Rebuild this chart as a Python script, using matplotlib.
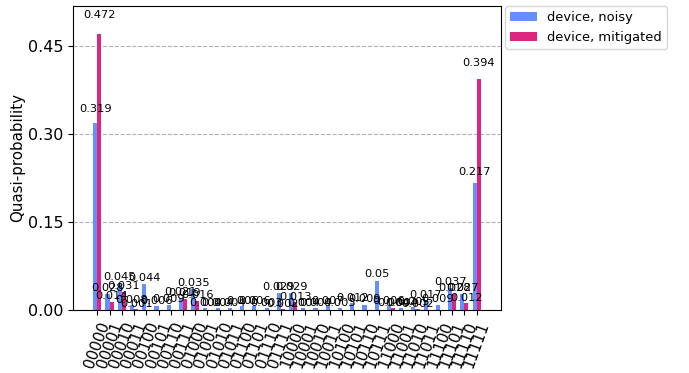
import numpy as np
import matplotlib
matplotlib.use('Agg')
import matplotlib.pyplot as plt

# bitstring outcomes, 5 qubits
labels = [format(i, '05b') for i in range(32)]

noisy = [0.319, 0.028, 0.045, 0.008, 0.044, 0.006, 0.009, 0.021,
         0.035, 0.004, 0.004, 0.004, 0.006, 0.006, 0.003, 0.029,
         0.029, 0.004, 0.004, 0.007, 0.003, 0.012, 0.009, 0.05,
         0.006, 0.004, 0.005, 0.017, 0.009, 0.037, 0.027, 0.217]

mitigated = [0.472, 0.014, 0.031, 0.001, 0.0, 0.0, 0.0, 0.019,
             0.016, 0.0, 0.0, 0.0, 0.0, 0.0, 0.0, 0.002,
             0.013, 0.0, 0.0, 0.0, 0.0, 0.0, 0.0, 0.0,
             0.004, 0.0, 0.002, 0.0, 0.0, 0.028, 0.012, 0.394]

series = [('device, noisy', noisy, '#648fff'),
          ('device, mitigated', mitigated, '#dc267f')]

fig = plt.figure(figsize=(6.89, 3.73), dpi=100)
ax = fig.add_axes([0.106, 0.169, 0.621, 0.815])

ind = np.arange(len(labels))
width = 1 / (len(series) + 1)

for item, (name, vals, col) in enumerate(series):
    vals = np.array(vals)
    rects = ax.bar(ind + item * width, vals, width, label=name, color=col, zorder=2)
    for rect, v in zip(rects, vals):
        if v <= 0:
            continue
        ax.text(rect.get_x() + rect.get_width() / 2.0, 1.05 * v, str(round(v, 3)),
                ha='center', va='bottom', zorder=3, fontsize=8.2)

ax.set_xticks(ind + width * (len(series) - 1) / 2)
ax.set_xticklabels(labels, fontsize=11, rotation=70)
ax.set_xlim(-1.82, 33.15)

ymax = 1.1 * max(max(noisy), max(mitigated))
ax.set_ylim(0, ymax)
ax.set_yticks([0.0, 0.15, 0.30, 0.45])
ax.set_yticklabels(['0.00', '0.15', '0.30', '0.45'], fontsize=11.5)
ax.set_ylabel('Quasi-probability', fontsize=10.8, labelpad=2)
ax.yaxis.grid(True, linestyle='--', color='#b0b0b0', linewidth=0.8)
ax.set_axisbelow(True)

ax.legend(loc='upper left', bbox_to_anchor=(1.01, 1.0), ncol=1,
          borderaxespad=0, frameon=True, fontsize=9.4)

fig.savefig('out.png', dpi=100)
